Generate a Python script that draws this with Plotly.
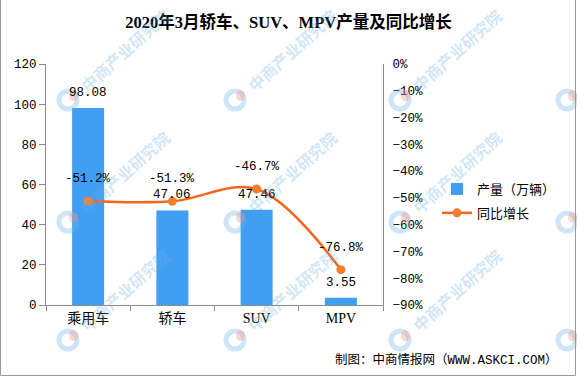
import plotly.graph_objects as go

categories = ["乘用车", "轿车", "SUV", "MPV"]
production = [98.08, 47.06, 47.46, 3.55]
yoy_growth = [-51.2, -51.3, -46.7, -76.8]
yoy_labels = ["-51.2%", "-51.3%", "-46.7%", "-76.8%"]
prod_labels = ["98.08", "47.06", "47.46", "3.55"]

W, H = 577, 377
L, R, T, B = 46, 194, 64, 72
pw, ph = W - L - R, H - T - B


def px(x):
    return (x - L) / pw


def py(y):
    return 1 - (y - T) / ph


mono = "Liberation Mono, DejaVu Sans Mono, Noto Sans CJK SC"
cjk = "Noto Sans CJK SC, Liberation Serif"

fig = go.Figure()
fig.add_trace(go.Bar(
    x=categories, y=production, name="产量（万辆）",
    marker=dict(color="#409FF2", line=dict(width=0)),
    width=0.38, legendgroup="a",
    yaxis="y",
))
fig.add_trace(go.Scatter(
    x=categories, y=yoy_growth, name="同比增长",
    mode="lines+markers", legendgroup="b",
    line=dict(color="#F5651C", width=2.5, shape="spline", smoothing=1.0),
    marker=dict(color="#EE7F2E", size=9),
    cliponaxis=False,
    yaxis="y2",
))

annotations = []
# bar value labels
for c, v, t in zip(categories, production, prod_labels):
    annotations.append(dict(x=c, y=v, xref="x", yref="y", text=t, showarrow=False,
                            yanchor="middle", yshift=15,
                            font=dict(family=mono, size=12.5, color="#000")))
# growth labels
for c, v, t in zip(categories, yoy_growth, yoy_labels):
    annotations.append(dict(x=c, y=v, xref="x", yref="y2", text=t, showarrow=False,
                            yanchor="middle", yshift=22,
                            font=dict(family=mono, size=12.5, color="#000")))

# footer
annotations.append(dict(
    text="制图：中商情报网（WWW.ASKCI.COM）", xref="paper", yref="paper",
    x=px(560), y=py(360), xanchor="right", yanchor="middle",
    showarrow=False, font=dict(family=mono, size=12.5, color="#000"),
))

shapes = []
# watermark
wm_color = "rgba(110,175,225,0.33)"
for ly in [100, 222, 340]:
    for lx in [-98, 68, 235, 400, 567]:
        if 0 < lx < 500:
            annotations.append(dict(
                text="<b>中商产业研究院</b>", xref="paper", yref="paper",
                x=px(lx + 57), y=py(ly - 50), xanchor="center", yanchor="middle",
                textangle=-42, showarrow=False,
                font=dict(family="Noto Sans CJK SC", size=16, color=wm_color),
            ))
        if lx > 0:
            r = 9
            shapes.append(dict(type="circle", xref="paper", yref="paper",
                               x0=px(lx - r), x1=px(lx + r), y0=py(ly + r), y1=py(ly - r),
                               line=dict(color=wm_color, width=5), fillcolor="rgba(0,0,0,0)",
                               layer="above"))
            shapes.append(dict(type="circle", xref="paper", yref="paper",
                               x0=px(lx + 1), x1=px(lx + 10), y0=py(ly + 1), y1=py(ly - 10),
                               line=dict(width=0), fillcolor="rgba(240,150,125,0.35)",
                               layer="above"))

# outer border (left, right, bottom)
bc = "#999999"
for (x0, y0, x1, y1) in [(0.5, 0, 0.5, H - 1.5), (W - 1.5, 0, W - 1.5, H - 1.5),
                         (0.5, H - 1.5, W - 1.5, H - 1.5)]:
    shapes.append(dict(type="line", xref="paper", yref="paper",
                       x0=px(x0), x1=px(x1), y0=py(y0), y1=py(y1),
                       line=dict(color=bc, width=1)))

axis_color = "#8C8C8C"
fig.update_layout(
    width=W, height=H,
    margin=dict(l=L, r=R, t=T, b=B),
    paper_bgcolor="white", plot_bgcolor="white",
    title=dict(text="<b>2020年3月轿车、SUV、MPV产量及同比增长</b>",
               x=0.5, xanchor="center", xref="container", y=1 - 22 / H, yanchor="middle",
               font=dict(family="Liberation Serif, Noto Sans CJK SC", size=16.5, color="#000")),
    showlegend=True,
    legend=dict(x=px(437), xanchor="left", y=py(201), yanchor="middle",
                traceorder="grouped", tracegroupgap=4,
                font=dict(family=cjk, size=13, color="#000"),
                bgcolor="rgba(0,0,0,0)"),
    xaxis=dict(
        type="category", showline=True, linecolor=axis_color, linewidth=1,
        ticks="outside", tickson="boundaries", ticklen=5, tickcolor=axis_color,
        tickfont=dict(family="Liberation Serif, Noto Sans CJK SC", size=14, color="#000"),
        showgrid=False, zeroline=False,
    ),
    yaxis=dict(
        range=[0, 120], dtick=20, showline=True, linecolor=axis_color, linewidth=1,
        ticks="outside", ticklen=6, tickcolor=axis_color, showgrid=False, zeroline=False,
        tickfont=dict(family=mono, size=12.5, color="#000"),
    ),
    yaxis2=dict(
        range=[-90, 0], dtick=10, ticksuffix="%", overlaying="y", side="right",
        showline=True, linecolor=axis_color, linewidth=1,
        ticks="outside", ticklen=6, tickcolor="rgba(0,0,0,0)", showgrid=False,
        zeroline=False, tickfont=dict(family=mono, size=12.5, color="#000"),
    ),
    annotations=annotations,
    shapes=shapes,
)

fig.write_html("out.html", config={"displayModeBar": False},
               post_script="document.body.style.margin='0';document.body.style.overflow='hidden';")
